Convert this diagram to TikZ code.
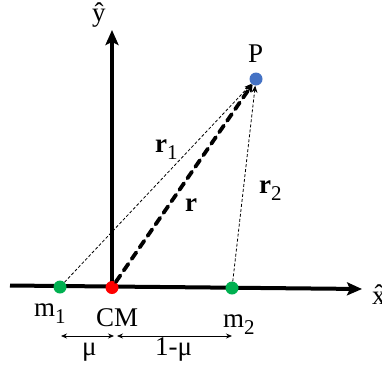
\documentclass[tikz,border=0pt]{standalone}
\usepackage{fontspec}
\setmainfont{Liberation Serif}
\usetikzlibrary{arrows.meta}
\newcommand\lowsub[1]{\raisebox{-7pt}{\fontsize{21}{25}\selectfont #1}}
\definecolor{dotgreen}{HTML}{00B050}
\definecolor{dotred}{HTML}{FF0000}
\definecolor{dotblue}{HTML}{4472C4}
\begin{document}
\begin{tikzpicture}[x=1pt,y=-1pt,
  axisline/.style={line width=4pt,-{Stealth[length=15pt,width=13pt,inset=3pt]}},
  dot/.style={circle,minimum size=13pt,inner sep=0pt},
  thindash/.style={line width=0.8pt,dash pattern=on 3pt off 2pt,-{Stealth[length=7pt,width=6pt]}},
  thickdash/.style={line width=3.8pt,dash pattern=on 8pt off 6pt,line cap=round,-{Stealth[length=10pt,width=10pt,round]}},
  dimline/.style={line width=0.8pt,{Stealth[length=6pt,width=5pt]}-{Stealth[length=6pt,width=5pt]}},
  lab/.style={font=\fontsize{27}{32}\selectfont,inner sep=0pt,anchor=base west}]
\useasboundingbox (0,0) rectangle (382,370);
% axes
\coordinate (xs) at (10,285.5);
\coordinate (xe) at (362,289);
\coordinate (ys) at (112,288);
\coordinate (ye) at (112,30);
\draw[axisline] (xs) -- (xe);
\draw[axisline] (ys) -- (ye);
% dots
\node[dot,fill=dotgreen] (m1) at (60,287) {};
\node[dot,fill=dotred] (CM) at (112,287.5) {};
\node[dot,fill=dotgreen] (m2) at (232,288) {};
\node[dot,fill=dotblue] (P) at (256,79) {};
% vectors
\draw[thindash] (m1) -- (P);
\draw[thindash] (m2) -- (P);
\draw[thickdash] (CM) -- (P);
% dimension arrows
\coordinate (d1) at (61,336);
\coordinate (d2) at (114,336);
\coordinate (d3) at (117,336);
\coordinate (d4) at (232,336);
\draw[dimline] (d1) -- (d2);
\draw[dimline] (d3) -- (d4);
% labels
\node[lab] (ylab) at (92,21) {ŷ};
\node[lab] (xlab) at (372,304) {\^{x}};
\node[lab] (Plab) at (248,62) {P};
\node[lab] (r1lab) at (155,152) {\textbf{r}\lowsub{1}};
\node[lab] (rlab) at (185,211) {\textbf{r}};
\node[lab] (r2lab) at (259,193) {\textbf{r}\lowsub{2}};
\node[lab] (m1lab) at (34,316) {m\lowsub{1}};
\node[lab] (CMlab) at (96,326) {CM};
\node[lab] (m2lab) at (223,327) {m\lowsub{2}};
\node[lab] (mulab) at (82,355) {μ};
\node[lab] (omlab) at (155,355) {1-μ};
\end{tikzpicture}
\end{document}
